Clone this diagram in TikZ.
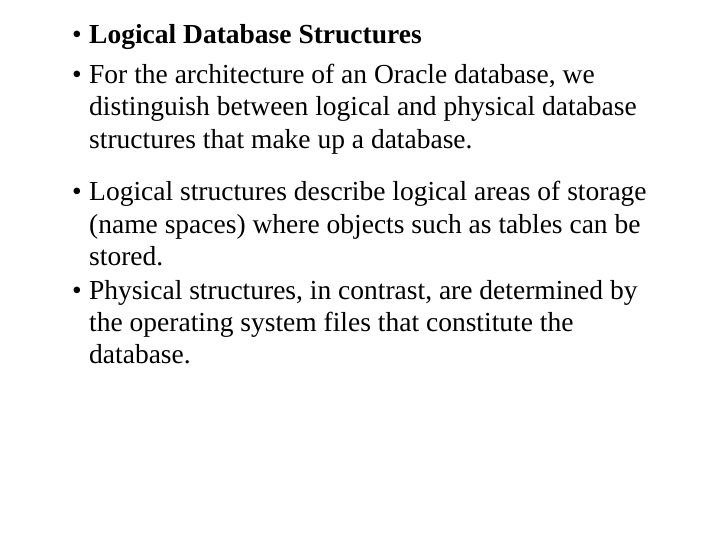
\documentclass[tikz,border=0pt]{standalone}
\usepackage{fontspec}
\setmainfont{Liberation Serif}
\begin{document}
\begin{tikzpicture}[x=1bp,y=-1bp,
    % Styles
    line/.style={anchor=base west,inner sep=0pt,font=\fontsize{27.5bp}{32bp}\selectfont},
    dot/.style={anchor=base west,inner sep=0pt,font=\fontsize{27.5bp}{32bp}\selectfont}]
  \useasboundingbox (0,0) rectangle (720,540);
  % Bullets
  \foreach \y/\n in {44/b1,84/b2,201/b3,299/b4}
    \node[dot] (\n) at (72,\y) {\textbullet};
  % Text lines
  \node[line] (t1) at (89,44) {\textbf{Logical Database Structures}};
  \foreach \y/\n/\txt in {
      84/t2/{For the architecture of an Oracle database, we},
      116/t3/{distinguish between logical and physical database},
      149/t4/{structures that make up a database.},
      201/t5/{Logical structures describe logical areas of storage},
      234/t6/{(name spaces) where objects such as tables can be},
      266/t7/{stored.},
      299/t8/{Physical structures, in contrast, are determined by},
      331/t9/{the operating system files that constitute the},
      363/t10/{database.}}
    \node[line] (\n) at (89,\y) {\txt};
\end{tikzpicture}
\end{document}
